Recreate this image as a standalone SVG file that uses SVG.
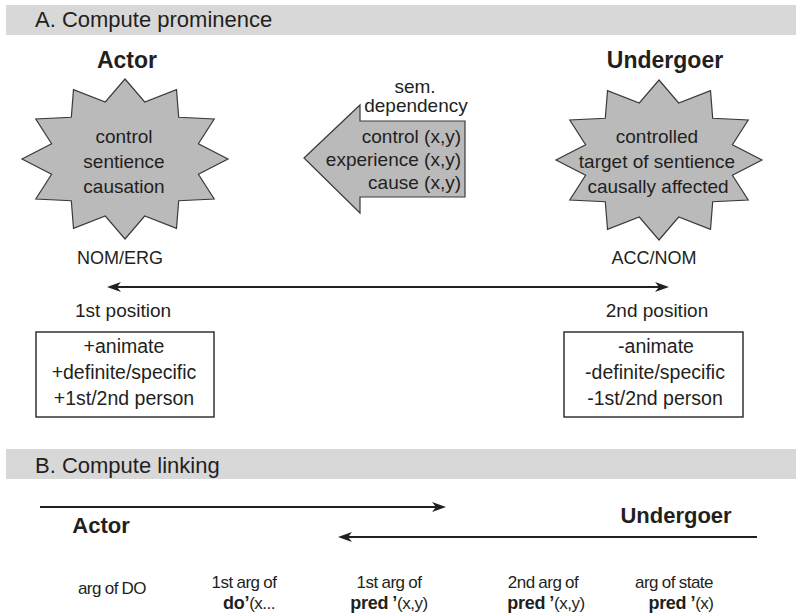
<svg xmlns="http://www.w3.org/2000/svg" width="796" height="616" viewBox="0 0 796 616">
<style>
  text{font-family:"Liberation Sans",Arial,sans-serif;fill:#231f20}
  .hd{font-size:22px}
  .lbl{font-size:23px;font-weight:bold;text-anchor:middle}
  .st{font-size:19px;text-anchor:middle}
  .ar{font-size:19px;text-anchor:end}
  .cs{font-size:18px;text-anchor:middle}
  .bx{font-size:19.5px;text-anchor:middle}
  .bt{font-size:17px;text-anchor:middle;letter-spacing:-0.5px;word-spacing:-0.5px}
  .bb{font-weight:bold;font-size:18px;letter-spacing:-0.3px}
  .bar{fill:#d8d8d8}
  .star{fill:#bababa;stroke:#3a3a3a;stroke-width:1.2}
  .box{fill:#ffffff;stroke:#333333;stroke-width:1.5}
  .ln{stroke:#231f20;stroke-width:2;fill:none}
</style>
<defs>
  <marker id="ah" viewBox="0 0 14 10" refX="6" refY="5" markerWidth="14" markerHeight="10" markerUnits="userSpaceOnUse" orient="auto-start-reverse">
    <path d="M0,0 L14,5 L0,10 L4,5 z" fill="#231f20"/>
  </marker>
  <polygon id="starShape" points="0,-80 19.7,-57 51.5,-69.3 53.7,-41.7 89.2,-40 73.4,-15.3 103,0 73.4,15.3 89.2,40 53.7,41.7 51.5,69.3 19.7,57 0,80 -19.7,57 -51.5,69.3 -53.7,41.7 -89.2,40 -73.4,15.3 -103,0 -73.4,-15.3 -89.2,-40 -53.7,-41.7 -51.5,-69.3 -19.7,-57"/>
</defs>
<rect width="796" height="616" fill="#ffffff"/>

<g id="headerA">
  <rect class="bar" x="6" y="5" width="790" height="30"/>
  <text class="hd" x="35" y="27">A. Compute prominence</text>
</g>

<g id="actor">
  <text class="lbl" x="127" y="68">Actor</text>
  <use href="#starShape" class="star" transform="translate(125,159)"/>
  <text class="st" x="124" y="143">control</text>
  <text class="st" x="124" y="168">sentience</text>
  <text class="st" x="124" y="193">causation</text>
  <text class="cs" x="120" y="264">NOM/ERG</text>
  <text class="cs" x="123" y="317" style="font-size:19px">1st position</text>
</g>

<g id="actorBox">
  <rect class="box" x="36" y="332" width="178" height="85"/>
  <text class="bx" x="124" y="353">+animate</text>
  <text class="bx" x="124" y="379">+definite/specific</text>
  <text class="bx" x="124" y="405">+1st/2nd person</text>
</g>

<g id="semdep">
  <text class="st" x="415" y="93">sem.</text>
  <text class="st" x="416" y="112">dependency</text>
  <polygon class="star" points="304,158 360,105 360,121 465,121 465,197 360,197 360,213"/>
  <text class="ar" x="461" y="143">control (x,y)</text>
  <text class="ar" x="461" y="166">experience (x,y)</text>
  <text class="ar" x="461" y="189">cause (x,y)</text>
</g>

<g id="undergoer">
  <text class="lbl" x="665" y="68">Undergoer</text>
  <use href="#starShape" class="star" transform="translate(659,160)"/>
  <text class="st" x="657" y="143">controlled</text>
  <text class="st" x="657" y="168">target of sentience</text>
  <text class="st" x="658" y="193">causally affected</text>
  <text class="cs" x="654" y="264">ACC/NOM</text>
  <text class="cs" x="657" y="317" style="font-size:19px">2nd position</text>
</g>

<g id="undergoerBox">
  <rect class="box" x="564" y="332" width="179" height="85"/>
  <text class="bx" x="656" y="353">-animate</text>
  <text class="bx" x="655" y="379">-definite/specific</text>
  <text class="bx" x="655" y="405">-1st/2nd person</text>
</g>

<g id="headerB">
  <rect class="bar" x="6" y="449" width="790" height="30"/>
  <text class="hd" x="35" y="473">B. Compute linking</text>
</g>

<g id="linkLabels">
  <text class="lbl" x="101" y="533" style="font-size:22px">Actor</text>
  <text class="lbl" x="676" y="523" style="font-size:22px">Undergoer</text>
</g>

<g id="col1"><text class="bt" x="112" y="594">arg of DO</text></g>
<g id="col2">
  <text class="bt" x="244" y="588">1st arg of</text>
  <text class="bt" x="249" y="609"><tspan class="bb">do’</tspan>(x...</text>
</g>
<g id="col3">
  <text class="bt" x="389" y="588">1st arg of</text>
  <text class="bt" x="389" y="609"><tspan class="bb">pred ’</tspan>(x,y)</text>
</g>
<g id="col4">
  <text class="bt" x="543" y="588">2nd arg of</text>
  <text class="bt" x="546" y="609"><tspan class="bb">pred ’</tspan>(x,y)</text>
</g>
<g id="col5">
  <text class="bt" x="674" y="588">arg of state</text>
  <text class="bt" x="681" y="609"><tspan class="bb">pred ’</tspan>(x)</text>
</g>

<g id="connectors">
  <line class="ln" x1="115" y1="287" x2="661" y2="287" marker-start="url(#ah)" marker-end="url(#ah)"/>
  <line class="ln" x1="40" y1="507" x2="438" y2="507" marker-end="url(#ah)"/>
  <line class="ln" x1="757" y1="537" x2="346" y2="537" marker-end="url(#ah)"/>
</g>
</svg>
